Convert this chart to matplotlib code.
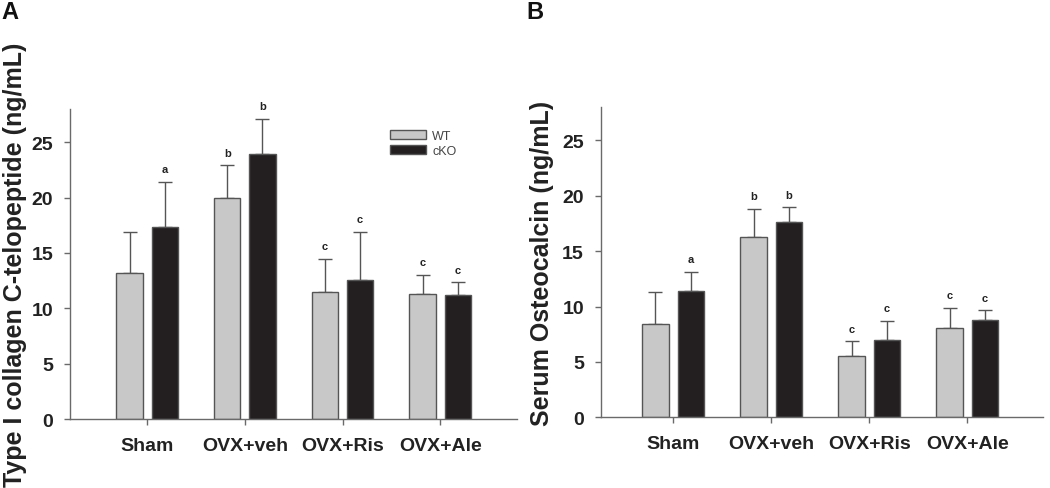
import matplotlib
matplotlib.use("Agg")
import matplotlib.pyplot as plt
import numpy as np
from matplotlib.patches import Patch

groups = ["Sham", "OVX+veh", "OVX+Ris", "OVX+Ale"]
series = ["WT", "cKO"]

ctx_wt = [13.2, 20.0, 11.5, 11.3]
ctx_wt_err = [3.7, 2.9, 3.0, 1.7]
ctx_ko = [17.3, 23.9, 12.6, 11.2]
ctx_ko_err = [4.1, 3.2, 4.3, 1.15]
ctx_wt_sig = ["", "b", "c", "c"]
ctx_ko_sig = ["a", "b", "c", "c"]

ocn_wt = [8.4, 16.3, 5.5, 8.1]
ocn_wt_err = [2.9, 2.5, 1.35, 1.75]
ocn_ko = [11.4, 17.6, 7.0, 8.8]
ocn_ko_err = [1.7, 1.35, 1.7, 0.85]
ocn_wt_sig = ["", "b", "c", "c"]
ocn_ko_sig = ["a", "b", "c", "c"]

plt.rcParams['font.family'] = ['Liberation Sans', 'DejaVu Sans']

fig = plt.figure(figsize=(10.5, 4.89), dpi=100)
axA = fig.add_axes([0.0667, 0.141, 0.426, 0.634])
axB = fig.add_axes([0.572, 0.1446, 0.421, 0.634])

wt_color = "#c8c8c8"
ko_color = "#231f20"
edge = "#555555"
axis_col = "#6a6a6a"

def draw(ax, wt, wterr, ko, koerr, wsig, ksig, ylabel, xlim, lpad):
    x = np.arange(1, len(groups) + 1)
    off = 0.18
    w = 0.27
    ax.bar(x - off, wt, w, color=wt_color, edgecolor=edge, linewidth=1.0, zorder=2, label="WT")
    ax.bar(x + off, ko, w, color=ko_color, edgecolor=edge, linewidth=1.0, zorder=2, label="cKO")
    ax.errorbar(x - off, wt, yerr=[np.zeros(len(wt)), wterr], fmt="none", ecolor=edge,
                elinewidth=1.0, capsize=5, capthick=1.0, zorder=1)
    ax.errorbar(x + off, ko, yerr=[np.zeros(len(ko)), koerr], fmt="none", ecolor=edge,
                elinewidth=1.0, capsize=5, capthick=1.0, zorder=1)
    for xi, v, e, s in zip(x - off, wt, wterr, wsig):
        if s:
            ax.text(xi, v + e + 0.7, s, ha="center", va="bottom", fontsize=8, fontweight="bold", color="#222222")
    for xi, v, e, s in zip(x + off, ko, koerr, ksig):
        if s:
            ax.text(xi, v + e + 0.7, s, ha="center", va="bottom", fontsize=8, fontweight="bold", color="#222222")
    ax.set_xlim(*xlim)
    ax.set_ylim(0, 28)
    ax.set_yticks([0, 5, 10, 15, 20, 25])
    ax.set_xticks(x)
    ax.set_xticklabels(groups)
    for sp in ["top", "right"]:
        ax.spines[sp].set_visible(False)
    for sp in ["left", "bottom"]:
        ax.spines[sp].set_color(axis_col)
        ax.spines[sp].set_linewidth(1.0)
    ax.tick_params(axis="both", direction="out", length=4, width=1.0, color=axis_col,
                   labelsize=14, colors="#222222")
    ax.tick_params(axis="x", pad=9)
    ax.tick_params(axis="y", pad=8)
    for lab in ax.get_xticklabels() + ax.get_yticklabels():
        lab.set_fontweight("bold")
        lab.set_color("#222222")
    ax.set_ylabel(ylabel, fontsize=18, fontweight="bold", color="#222222", labelpad=lpad)

draw(axA, ctx_wt, ctx_wt_err, ctx_ko, ctx_ko_err, ctx_wt_sig, ctx_ko_sig,
     "Type I collagen C-telopeptide (ng/mL)", (0.21, 4.79), 3)
draw(axB, ocn_wt, ocn_wt_err, ocn_ko, ocn_ko_err, ocn_wt_sig, ocn_ko_sig,
     "Serum Osteocalcin (ng/mL)", (0.26, 4.77), 6)

handles = [Patch(facecolor=wt_color, edgecolor=edge, label=series[0]),
           Patch(facecolor=ko_color, edgecolor=edge, label=series[1])]
axA.legend(handles=handles, loc="upper left", bbox_to_anchor=(0.69, 0.97), frameon=False,
           fontsize=9, handlelength=2.9, handleheight=0.8, labelspacing=0.25, handletextpad=0.5,
           labelcolor="#444444")

fig.text(0.001, 0.997, "A", fontsize=17, fontweight="bold", va="top", ha="left", color="#111111")
fig.text(0.501, 0.997, "B", fontsize=17, fontweight="bold", va="top", ha="left", color="#111111")

fig.savefig("out.png", dpi=100)
